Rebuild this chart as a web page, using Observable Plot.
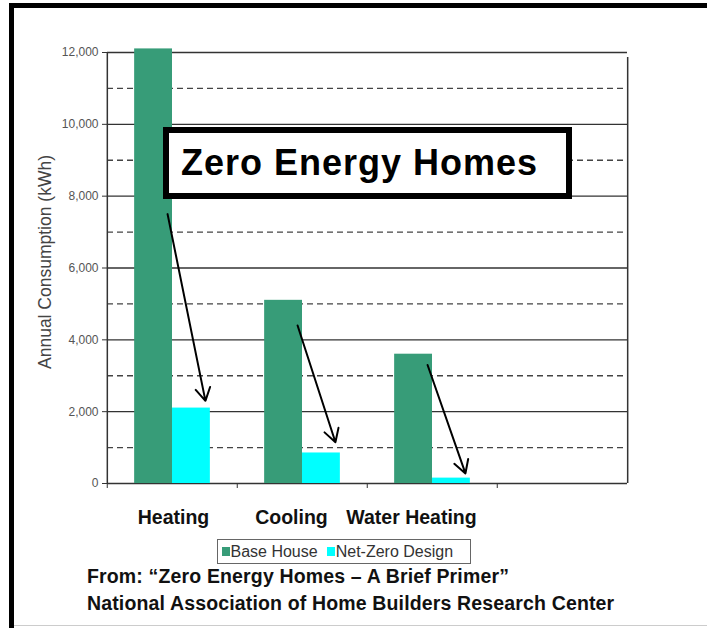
<!DOCTYPE html>
<html>
<head>
<meta charset="utf-8">
<script src="https://cdn.jsdelivr.net/npm/d3@7"></script>
<script src="https://cdn.jsdelivr.net/npm/@observablehq/plot@0.6"></script>
<style>
html, body { margin: 0; padding: 0; background: #fff; }
body { width: 707px; height: 628px; position: relative; overflow: hidden; font-family: "Liberation Sans", Arial, sans-serif; }
#frame { position: absolute; left: 9px; top: 3px; width: 698px; height: 640px; border-left: 5px solid #000; border-top: 5px solid #000; box-sizing: border-box; }
#bottomline { position: absolute; left: 14px; top: 625px; width: 693px; height: 1px; background: #ccc; }
#chart { position: absolute; left: 0; top: 0; }
#ylabel { position: absolute; left: 44.5px; top: 262px; transform: translate(-50%, -50%) rotate(-90deg); font-size: 17.5px; color: #444; white-space: nowrap; line-height: 17px; }
#title { position: absolute; left: 163px; top: 127px; width: 409px; height: 72px; box-sizing: border-box; border: 6px solid #000; background: #fff; font-weight: bold; font-size: 36px; letter-spacing: 1px; line-height: 60px; padding-left: 12px; color: #000; white-space: nowrap; }
#legend { position: absolute; left: 217px; top: 539px; width: 254px; height: 25px; box-sizing: border-box; border: 1.5px solid #666; font-size: 16px; color: #333; display: flex; align-items: center; padding-left: 3.5px; white-space: nowrap; background: #fff; }
.sw { display: inline-block; width: 8px; height: 9px; margin-right: 1px; }
#caption { position: absolute; left: 87px; top: 563px; font-weight: bold; font-size: 19.5px; letter-spacing: 0.15px; line-height: 27px; color: #111; white-space: nowrap; }
g[aria-label="y-axis tick label"] { fill: #555; }
</style>
</head>
<body>
<div id="frame"></div>
<div id="bottomline"></div>
<div id="chart"></div>
<div id="ylabel"></div>
<div id="title">Zero Energy Homes</div>
<div id="legend"><span class="sw" id="sw0"></span><span id="lg0"></span><span class="sw" id="sw1" style="margin-left:9px"></span><span id="lg1"></span></div>
<div id="caption">From: “Zero Energy Homes – A Brief Primer”<br>National Association of Home Builders Research Center</div>
<script>
const categories = ["Heating", "Cooling", "Water Heating"];
const series = ["Base House", "Net-Zero Design"];
const baseHouse = [12100, 5100, 3600];
const netZero = [2100, 850, 150];
const yTicks = [0, 2000, 4000, 6000, 8000, 10000, 12000];
const yMinorTicks = [1000, 3000, 5000, 7000, 9000, 11000];
const arrowFrom = [7500, 4400, 3300];
const arrowTo = [2300, 1150, 280];
const colors = ["#379c78", "#00ffff"];
const yLabel = "Annual Consumption (kWh)";

const bars = categories.flatMap((c, i) => [
  {category: c, series: series[0], value: baseHouse[i]},
  {category: c, series: series[1], value: netZero[i]}
]);
const arrows = categories.map((c, i) => ({category: c, from: arrowFrom[i], to: arrowTo[i]}));
const fxDomain = [...categories, " "];
const labelShift = [1, -11, -21]; // horizontal nudges of the category labels (layout only)

document.getElementById("sw0").style.background = colors[0];
document.getElementById("sw1").style.background = colors[1];
document.getElementById("lg0").textContent = series[0];
document.getElementById("lg1").textContent = series[1];
document.getElementById("ylabel").textContent = yLabel;

const plot = Plot.plot({
  width: 707,
  height: 540,
  marginLeft: 106,
  marginRight: 79,
  marginTop: 52,
  marginBottom: 57,
  style: {fontFamily: "'Liberation Sans', Arial, sans-serif", background: "transparent", overflow: "visible"},
  fx: {domain: fxDomain, padding: 0, axis: null, label: null},
  x: {domain: series, paddingInner: 0, paddingOuter: 0.717, axis: null, round: false},
  y: {domain: [0, 12000], axis: null},
  color: {domain: series, range: colors},
  marks: [
    Plot.ruleY(yMinorTicks, {stroke: "#444", strokeWidth: 1.3, strokeDasharray: "6,4"}),
    Plot.ruleY(yTicks, {stroke: "#333", strokeWidth: 1.3}),
    Plot.barY(bars, {fx: "category", x: "series", y: "value", fill: "series"}),
    Plot.ruleX([categories[0]], {fx: d => d, x: () => series[0], dx: -46.25, y1: 0, y2: 12000, stroke: "#333", strokeWidth: 1.5}),
    Plot.ruleX([" "], {fx: d => d, x: () => series[1], dx: 46.25, y1: 0, y2: 12000, insetBottom: -5, stroke: "#333", strokeWidth: 1.5}),
    Plot.axisFx({anchor: "bottom", tickSize: 5, dx: -65.25, tickFormat: () => "", label: null, stroke: "#333"}),
    ...categories.map((c, i) => Plot.text([c], {fx: d => d, text: d => d, frameAnchor: "bottom", dy: 40, dx: labelShift[i], fontSize: 19.5, fontWeight: "bold", fill: "#111"})),
    Plot.axisY({ticks: yTicks, tickSize: 5, tickPadding: 4, tickFormat: d3.format(","), label: null, fontSize: 12, stroke: "#333"}),
    Plot.arrow(arrows, {fx: "category", x1: () => series[0], x2: () => series[1], y1: "from", y2: "to", dx: 14, stroke: "#000", strokeWidth: 2, headLength: 11})
  ]
});
document.getElementById("chart").appendChild(plot);
</script>
</body>
</html>
